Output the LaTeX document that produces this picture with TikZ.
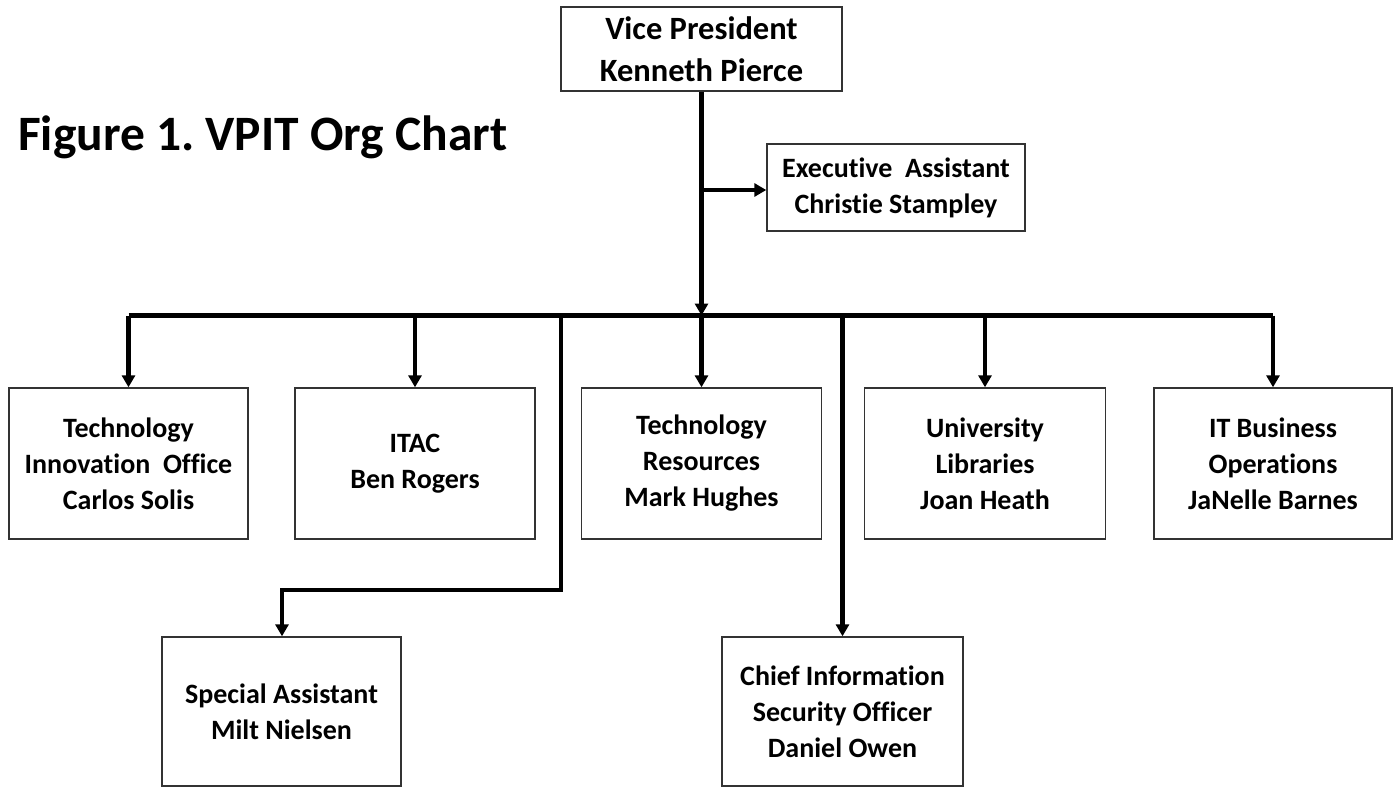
\documentclass[tikz,border=0pt]{standalone}
\usepackage{fontspec}
\setmainfont{Carlito}[RawFeature=-liga]
\usetikzlibrary{arrows.meta}
\frenchspacing
\begin{document}
\begin{tikzpicture}[x=1pt,y=1pt,
  box/.style={draw=black!80,line width=1.4pt,fill=white,inner sep=0pt,align=center,
    font=\fontsize{28}{36}\selectfont\bfseries},
  conn/.style={line width=4.2pt,black},
  arr/.style={conn,-{Triangle[length=12pt,width=13pt]}},
  capbox/.style={inner sep=0pt,anchor=base west,font=\fontsize{49.5}{56}\selectfont\bfseries}
]
\useasboundingbox (0,0) rectangle (1394,-788);
\node[capbox] (title) at (18,-150) {Figure 1. VPIT Org Chart};
\node[box,minimum width=281pt,minimum height=84pt,font=\fontsize{32.5}{42}\selectfont\bfseries] (vp) at (701.5,-49) {Vice President\\Kenneth Pierce};
\node[box,minimum width=258pt,minimum height=87pt] (ea) at (896,-187.5) {Executive\ \ Assistant\\Christie Stampley};
\node[box,minimum width=239pt,minimum height=151pt] (b1) at (128.5,-463.5) {Technology\\Innovation\ \ Office\\Carlos Solis};
\node[box,minimum width=240pt,minimum height=151pt] (b2) at (415,-463.5) {ITAC\\Ben Rogers};
\node[box,minimum width=240pt,minimum height=151pt] (b3) at (701.5,-463.5) {Technology\\Resources\\Mark Hughes};
\node[box,minimum width=241pt,minimum height=151pt] (b4) at (985,-463.5) {University\\Libraries\\Joan Heath};
\node[box,minimum width=238pt,minimum height=151pt] (b5) at (1273,-463.5) {IT Business\\Operations\\JaNelle Barnes};
\node[box,minimum width=239pt,minimum height=149pt] (sa) at (281.5,-711.5) {Special Assistant\\Milt Nielsen};
\node[box,minimum width=241pt,minimum height=149pt] (ciso) at (842.5,-711.5) {Chief Information\\Security Officer\\Daniel Owen};
\coordinate (j) at (701.5,-315.5);
\coordinate (eaj) at (701.5,-190);
\coordinate (sat) at (561,-315.5);
\coordinate (sab) at (561,-590);
\coordinate (sal) at (282,-590);
\coordinate (cit) at (842.5,-315.5);
% bar
\draw[conn] (b1.north |- j) -- (b5.north |- j);
\draw[arr] (vp.south) -- (j);
\draw[arr] (eaj) -- (ea.west |- eaj);
\draw[arr] (b1.north |- j) -- (b1.north);
\draw[arr] (b2.north |- j) -- (b2.north);
\draw[arr] (j) -- (b3.north);
\draw[arr] (b4.north |- j) -- (b4.north);
\draw[arr] (b5.north |- j) -- (b5.north);
\draw[arr] (sat) -- (sab) -- (sal) -- (sal |- sa.north);
\draw[arr] (cit) -- (ciso.north);
\end{tikzpicture}
\end{document}
